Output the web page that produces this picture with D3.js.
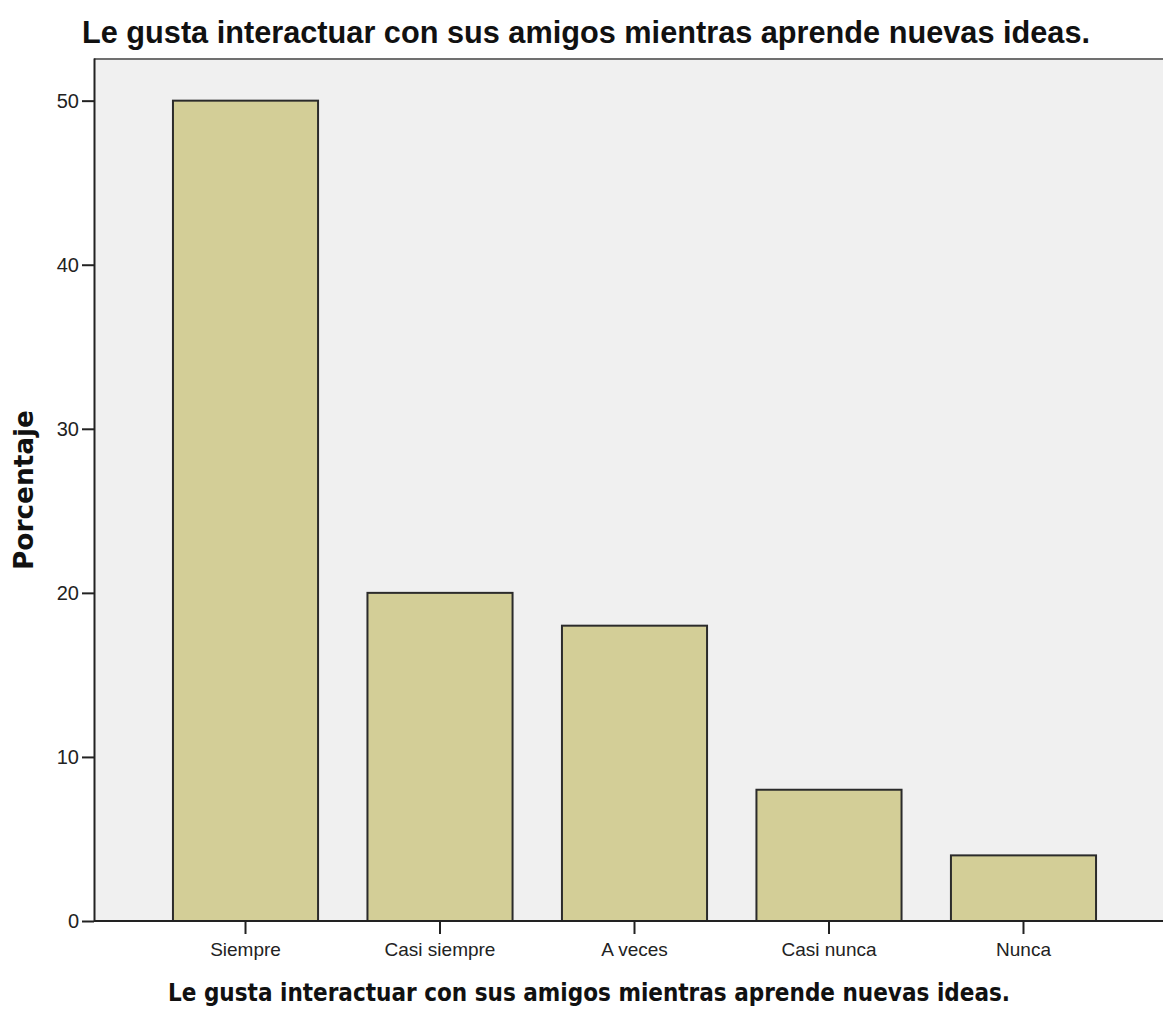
<!DOCTYPE html>
<html lang="es">
<head>
<meta charset="UTF-8">
<title>Porcentaje</title>
<script src="https://d3js.org/d3.v7.min.js"></script>
<style>
  body { margin: 0; background: #fff; }
  svg { display: block; }
</style>
</head>
<body>
<div id="chart"></div>
<script>
// data
const categories = ["Siempre", "Casi siempre", "A veces", "Casi nunca", "Nunca"];
const percents = [50, 20, 18, 8, 4];
const yTicks = [0, 10, 20, 30, 40, 50];
const titleText = "Le gusta interactuar con sus amigos mientras aprende nuevas ideas.";

const width = 1163, height = 1016;
const plot = { left: 94, top: 58, right: 1175, bottom: 921 };

const svg = d3.select("#chart").append("svg")
    .attr("width", width)
    .attr("height", height);

// plot background
svg.append("rect")
    .attr("x", plot.left).attr("y", plot.top)
    .attr("width", plot.right - plot.left)
    .attr("height", plot.bottom - plot.top)
    .attr("fill", "#f0f0f0");

svg.append("line")
    .attr("x1", plot.left).attr("x2", plot.right)
    .attr("y1", plot.top + 1).attr("y2", plot.top + 1)
    .attr("stroke", "#707070").attr("stroke-width", 2);

const x = d3.scaleBand()
    .domain(categories)
    .range([plot.left, plot.right])
    .paddingInner(0.254)
    .paddingOuter(0.406);

const y = d3.scaleLinear()
    .domain([0, 52.6])
    .range([plot.bottom, plot.top]);

svg.selectAll(".bar")
    .data(categories)
    .enter().append("rect")
    .attr("class", "bar")
    .attr("x", d => x(d))
    .attr("y", (d, i) => y(percents[i]))
    .attr("width", x.bandwidth())
    .attr("height", (d, i) => y(0) - y(percents[i]))
    .attr("fill", "#d3ce97")
    .attr("stroke", "#2b2b2b")
    .attr("stroke-width", 2);

// axes
const yAxis = svg.append("g")
    .attr("transform", `translate(${plot.left},0)`)
    .call(d3.axisLeft(y).tickValues(yTicks).tickSize(12).tickPadding(3).tickSizeOuter(0));

const xAxis = svg.append("g")
    .attr("transform", `translate(0,${plot.bottom})`)
    .call(d3.axisBottom(x).tickSize(13).tickPadding(9).tickSizeOuter(0));

[yAxis, xAxis].forEach(g => {
    g.select(".domain").attr("stroke", "#222").attr("stroke-width", 2);
    g.selectAll(".tick line").attr("stroke", "#222").attr("stroke-width", 2);
    g.selectAll(".tick text")
        .attr("fill", "#222")
        .style("font-family", "'Liberation Sans', Arial, sans-serif")
        .style("font-size", "19px");
});
xAxis.select(".domain").attr("d", `M${plot.left},0H${plot.right}`);
yAxis.selectAll(".tick text").style("font-size", "20px");

// titles
svg.append("text")
    .attr("x", 586).attr("y", 43)
    .attr("text-anchor", "middle")
    .attr("textLength", 1008)
    .attr("lengthAdjust", "spacingAndGlyphs")
    .style("font-family", "'Liberation Sans', Arial, sans-serif")
    .style("font-weight", "bold")
    .style("font-size", "32px")
    .attr("fill", "#111")
    .text(titleText);

svg.append("text")
    .attr("x", 589).attr("y", 1001)
    .attr("text-anchor", "middle")
    .attr("textLength", 842)
    .attr("lengthAdjust", "spacingAndGlyphs")
    .style("font-family", "'DejaVu Sans', Verdana, sans-serif")
    .style("font-weight", "bold")
    .style("font-size", "24px")
    .attr("fill", "#111")
    .text(titleText);

svg.append("text")
    .attr("transform", "translate(33,490) rotate(-90)")
    .attr("text-anchor", "middle")
    .attr("textLength", 160)
    .attr("lengthAdjust", "spacingAndGlyphs")
    .style("font-family", "'DejaVu Sans', Verdana, sans-serif")
    .style("font-weight", "bold")
    .style("font-size", "26px")
    .attr("fill", "#111")
    .text("Porcentaje");
</script>
</body>
</html>
